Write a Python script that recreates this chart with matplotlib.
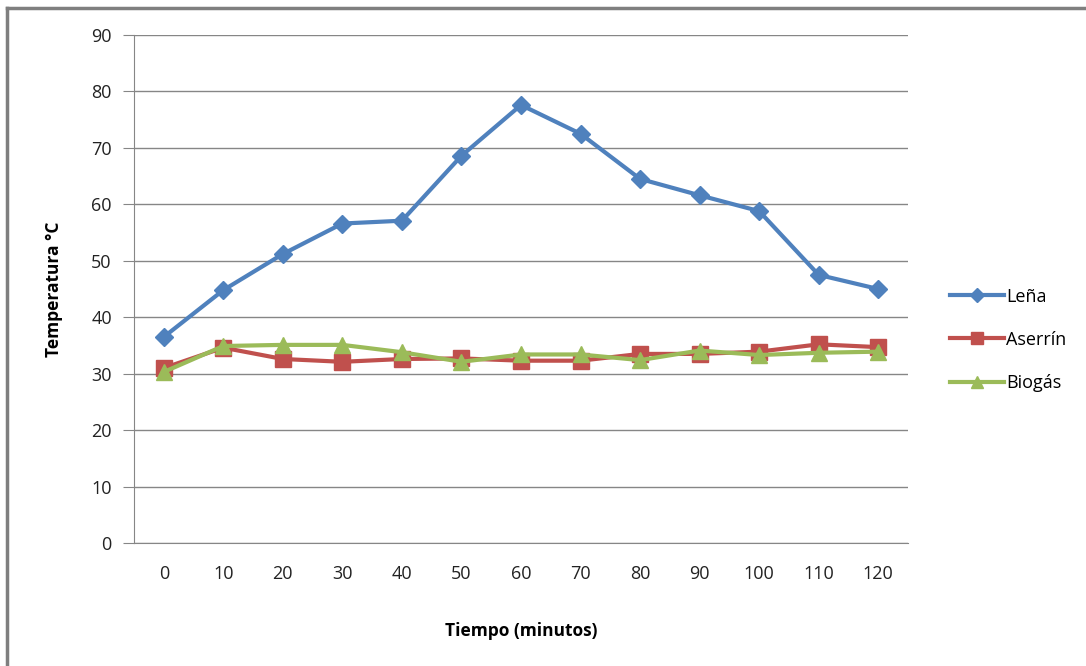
import matplotlib
matplotlib.use("Agg")
import matplotlib.pyplot as plt
from matplotlib.lines import Line2D

tiempo = ["0", "10", "20", "30", "40", "50", "60", "70", "80", "90", "100", "110", "120"]
lena = [36.5, 44.8, 51.2, 56.6, 57.1, 68.6, 77.6, 72.5, 64.5, 61.6, 58.8, 47.5, 45.0]
aserrin = [31.0, 34.6, 32.6, 32.1, 32.6, 32.7, 32.3, 32.3, 33.5, 33.5, 33.9, 35.2, 34.7]
biogas = [30.3, 34.9, 35.1, 35.1, 33.8, 32.1, 33.4, 33.4, 32.4, 34.1, 33.3, 33.7, 33.9]
y_ticks = [0, 10, 20, 30, 40, 50, 60, 70, 80, 90]

W, H = 1086, 666
fig = plt.figure(figsize=(W / 100, H / 100), dpi=100)
plt.rcParams['font.family'] = ['Open Sans', 'DejaVu Sans']

# plot area
left, right, top, bottom = 134, 908, 35, 543
ax = fig.add_axes([left / W, 1 - bottom / H, (right - left) / W, (bottom - top) / H])

x = list(range(len(tiempo)))
ax.plot(x, lena, color='#4F81BD', lw=3, marker='D', ms=9, label='Leña')
ax.plot(x, aserrin, color='#C0504D', lw=3, marker='s', ms=11, label='Aserrín')
ax.plot(x, biogas, color='#9BBB59', lw=3, marker='^', ms=11, label='Biogás')

ax.set_xlim(-0.5, len(tiempo) - 0.5)
ax.set_ylim(0, 90)
ax.set_yticks(y_ticks)
ax.set_xticks(x)
ax.set_xticklabels(tiempo)
ax.grid(axis='y', color='#868686', lw=1)
ax.set_axisbelow(True)
for s in ['top', 'right']:
    ax.spines[s].set_visible(False)
ax.spines['left'].set_color('#868686')
ax.spines['bottom'].set_color('#868686')
ax.tick_params(axis='y', length=8, color='#868686', labelsize=13, pad=8, labelcolor='#222222')
ax.tick_params(axis='x', length=0, labelsize=13, pad=16, labelcolor='#222222')

ax.set_xlabel('Tiempo (minutos)', fontsize=12.5, fontweight='bold', labelpad=28)
ax.set_ylabel('Temperatura °C', fontsize=12.5, fontweight='bold', labelpad=20)

leg = ax.legend(loc='center left', bbox_to_anchor=(1.045, 0.4), frameon=False,
                fontsize=13, handlelength=3.0, labelspacing=1.4, handletextpad=0.1,
                borderaxespad=0, markerscale=0.75)

# outer border (top and left)
fig.add_artist(Line2D([7 / W, 1], [1 - 8 / H, 1 - 8 / H], color='#7f7f7f', lw=2.5, transform=fig.transFigure))
fig.add_artist(Line2D([7 / W, 7 / W], [0, 1 - 8 / H], color='#7f7f7f', lw=2.5, transform=fig.transFigure))

fig.savefig('out.png', dpi=100)
